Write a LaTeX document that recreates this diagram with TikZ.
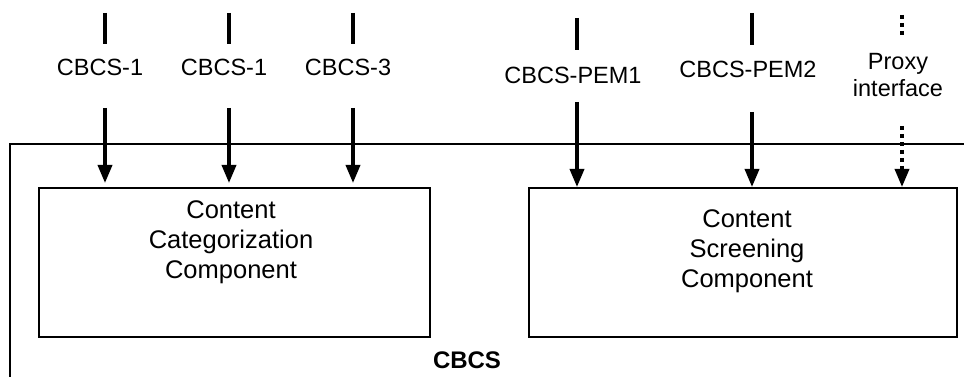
\documentclass[tikz,border=0pt]{standalone}
\usepackage{fontspec}
\setmainfont{Liberation Sans}
\usetikzlibrary{arrows.meta}
\def\thickness{2pt}
\tikzstyle{frame}=[line width=\thickness]
\tikzstyle{component}=[draw=black, line width=\thickness, minimum width=391pt, minimum height=149pt, inner sep=0pt]
\tikzstyle{boxtext}=[align=center, inner sep=0pt, font=\fontsize{25.5}{30}\selectfont]
\tikzstyle{iface}=[align=center, inner sep=0pt, font=\fontsize{23.5}{27}\selectfont]
\tikzstyle{stub}=[line width=4pt]
\tikzstyle{feed}=[line width=3.5pt, -{Triangle[length=18pt, width=14pt]}]
\tikzstyle{proxy}=[dash pattern=on 4pt off 4pt]

\begin{document}
\begin{tikzpicture}[x=1pt, y=-1pt]
\useasboundingbox (0,0) rectangle (964,377);
\draw[frame] (964,144) -- (10,144) -- (10,377);
\node[component] (cat) at (234.5,262.5) {};
\node[component, minimum width=428pt] (scr) at (743,262.5) {};
\node[boxtext] (cattext) at (231,242) {Content\\Categorization\\Component};
\node[boxtext] (scrtext) at (747,251) {Content\\Screening\\Component};
\node[iface] (if1) at (100,67) {CBCS-1};
\node[iface] (if2) at (224,67) {CBCS-1};
\node[iface] (if3) at (348,67) {CBCS-3};
\node[iface] (if4) at (573,75.5) {CBCS-PEM1};
\node[iface] (if5) at (748,69.5) {CBCS-PEM2};
\node[iface] (if6) at (898,75) {Proxy\\interface};
\node[font=\fontsize{24}{28}\selectfont\bfseries, inner sep=0pt] (cbcs) at (467,360) {CBCS};
\foreach \n/\x/\ya/\yb/\yc/\b/\s in {1/105/13/44/108/cat/4, 2/229/13/44/108/cat/4, 3/353/13/44/108/cat/4, 4/577/18/50/102/scr/0, 5/752/13/45/112/scr/0} {
  \coordinate (in\n) at (\x,\ya);
  \coordinate (out\n) at (\x,\yb);
  \coordinate (feed\n) at (\x,\yc);
  \draw[stub] (in\n) -- (out\n);
  \draw[feed, shorten >=\s pt] (feed\n) -- (feed\n |- \b.north);
}
\coordinate (in6) at (902,15);
\coordinate (out6) at (902,38);
\coordinate (feed6) at (902,126);
\draw[stub, proxy] (in6) -- (out6);
\draw[feed, proxy] (feed6) -- (feed6 |- scr.north);
\end{tikzpicture}
\end{document}
